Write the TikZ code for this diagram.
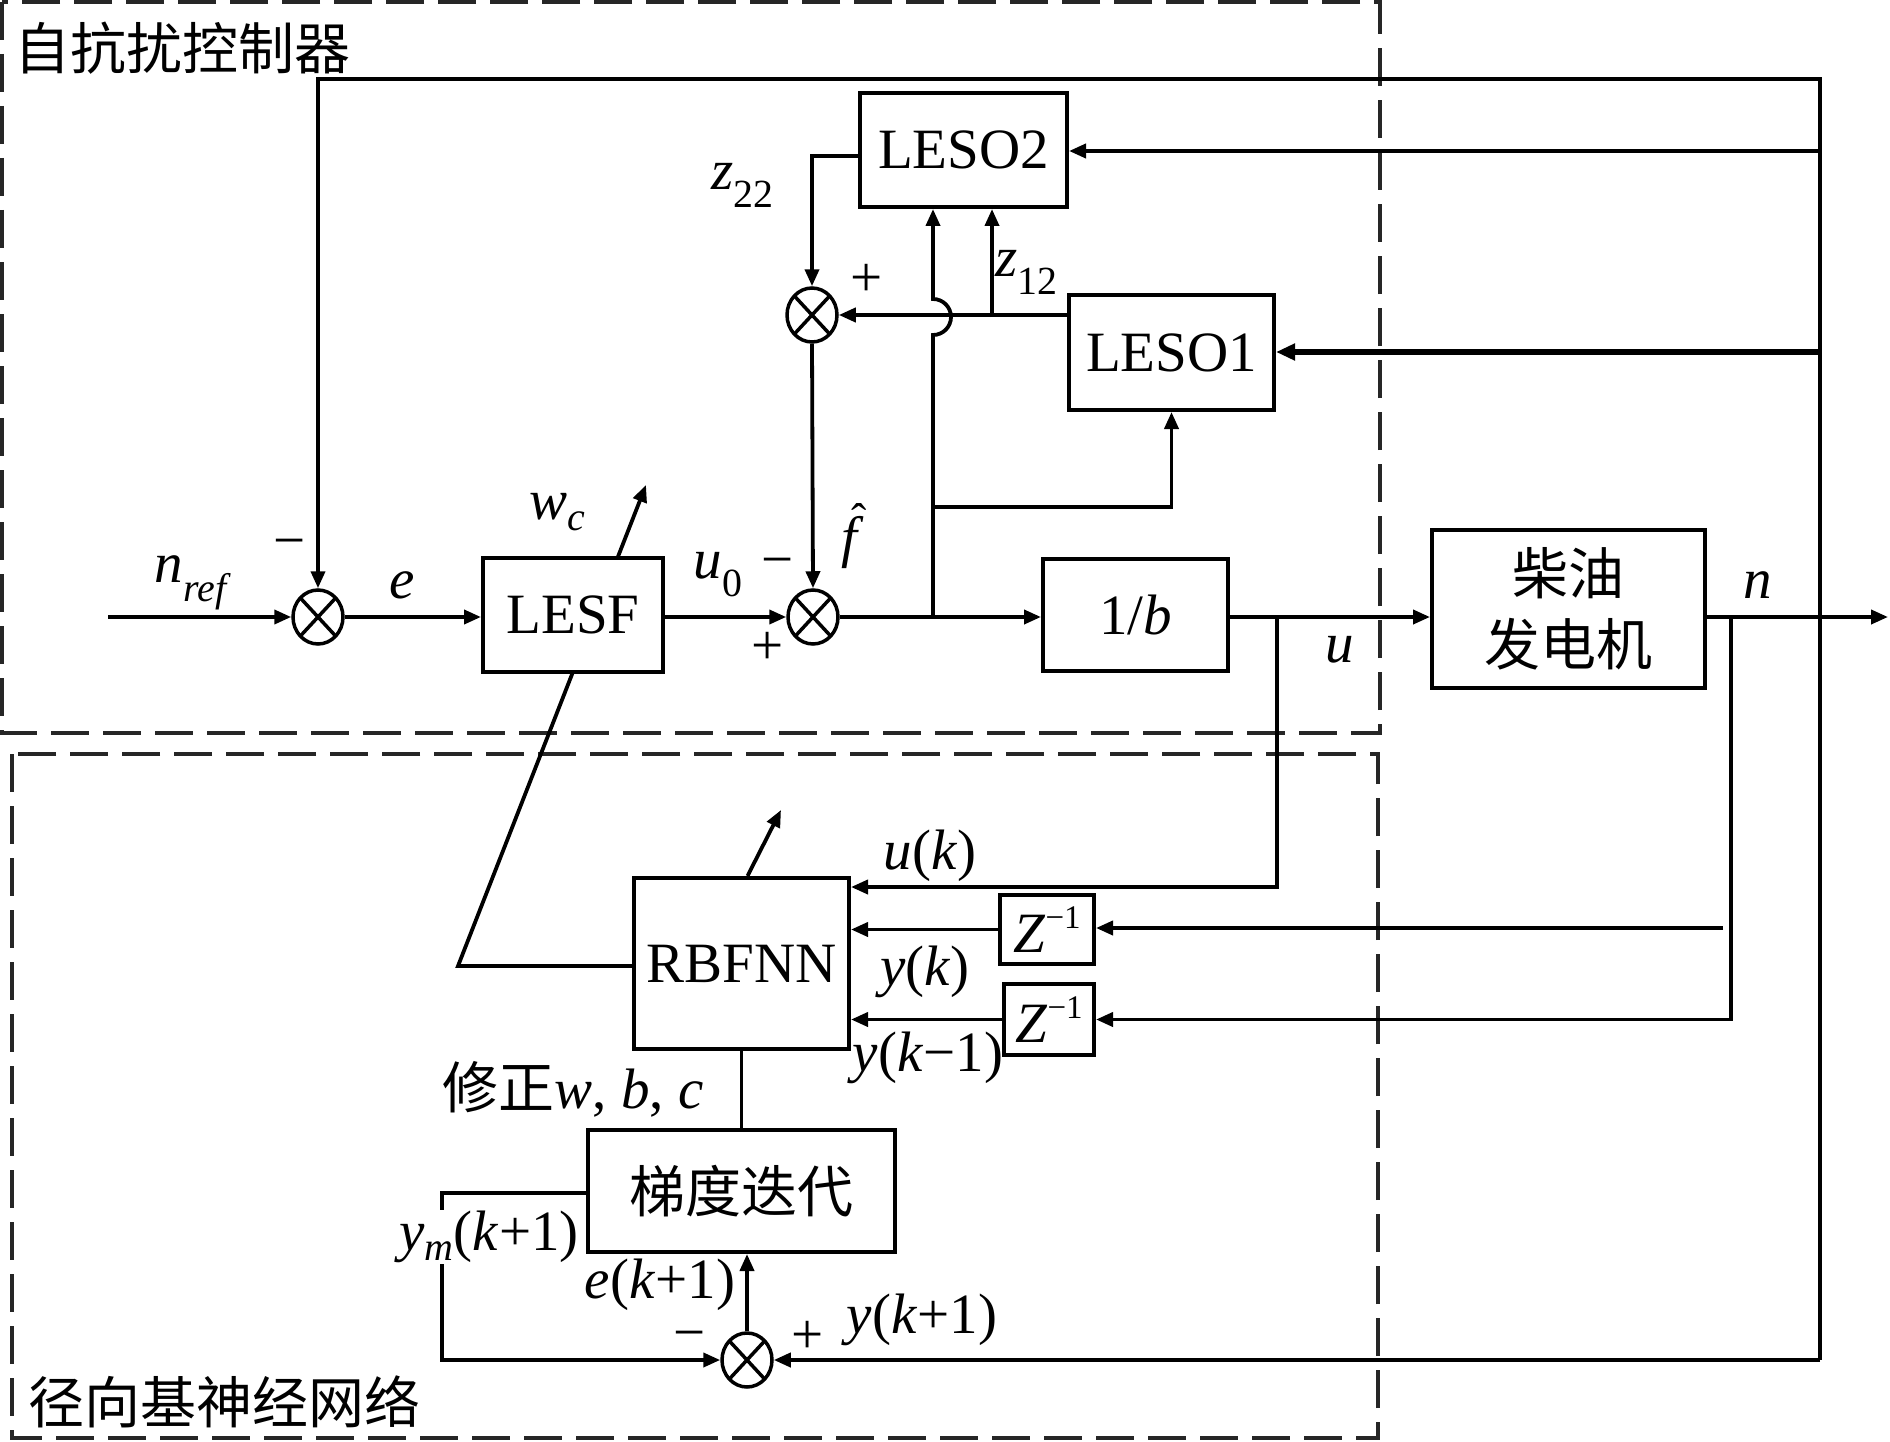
\documentclass[tikz,border=0pt]{standalone}
\usepackage{fontspec}
\setmainfont{Liberation Serif}
\newfontfamily\cjk{Noto Sans CJK SC}
\usetikzlibrary{arrows.meta,shapes.geometric}
\newcommand{\ii}[1]{\textit{#1}}
\newcommand{\fs}{\fontsize{57}{68}\selectfont}
\newcommand{\cs}{\fontsize{56}{71}\selectfont\cjk}
\newcommand{\zinv}{\ii{Z}\raisebox{0.42em}{\fontsize{33}{33}\selectfont −1}}
\tikzset{
  ln/.style={line width=3.8pt},
  arr/.style={line width=3.8pt, -{Triangle[length=17pt,width=14pt]}},
  blk/.style={draw, line width=4pt, fill=white, inner sep=0pt, font=\fs},
  sumn/.style={ellipse, draw, line width=3.5pt, minimum width=50pt, minimum height=54pt,
    inner sep=0pt, fill=white,
    path picture={\draw[line width=3.5pt]
      (path picture bounding box.north west) -- (path picture bounding box.south east)
      (path picture bounding box.north east) -- (path picture bounding box.south west);}},
  lbl/.style={font=\fs, inner sep=0pt},
  dbox/.style={draw=black!85, line width=4pt, dash pattern=on 38pt off 14pt},
}
\begin{document}
\begin{tikzpicture}[x=1pt,y=-1pt]
\useasboundingbox (0,0) rectangle (1890,1442);
\fill[white] (0,0) rectangle (1890,1442);

% dashed group frames
\draw[dbox] (2,2) rectangle (1380,733);
\draw[dbox] (12,754) rectangle (1378,1438);

% blocks
\node[blk, minimum width=207pt, minimum height=114pt] (leso2) at (963.5,150) {LESO2};
\node[blk, minimum width=205pt, minimum height=115pt] (leso1) at (1171.5,352.5) {LESO1};
\node[blk, minimum width=185pt, minimum height=112pt] (invb) at (1135.5,615) {1/\ii{b}};
\node[blk, minimum width=273pt, minimum height=158pt, align=center, font=\cs] (plant) at (1568.5,609) {柴油\\发电机};
\node[blk, minimum width=215pt, minimum height=171pt] (rbf) at (741.5,963.5) {RBFNN};
\node[blk, minimum width=94pt, minimum height=69pt] (z1) at (1047,929.5) {\zinv};
\node[blk, minimum width=90pt, minimum height=71pt] (z2) at (1049,1019.5) {\zinv};
\node[blk, minimum width=307pt, minimum height=122pt, font=\cs] (grad) at (741.5,1191) {梯度迭代};

% adjustable-parameter arrow through LESF (drawn before LESF so it passes behind)
\coordinate (ds) at (458,966);
\coordinate (dt) at (646,485);
\draw[arr] (ds -| rbf.west) -- (ds) -- (dt);
\node[blk, minimum width=180pt, minimum height=114pt] (lesf) at (573,615) {LESF};

% summing junctions
\node[sumn] (s1) at (318,617) {};
\node[sumn] (s2) at (813,617) {};
\node[sumn] (s3) at (812,315) {};
\node[sumn] (s4) at (747,1360) {};

% helper coordinates
\coordinate (in) at (108,617);
\coordinate (rt) at (1820,79);
\coordinate (rb) at (1820,1360);
\coordinate (f2) at (1820,151);
\coordinate (f1) at (1820,352);
\coordinate (j1) at (933,617);
\coordinate (j2) at (933,507);
\coordinate (zb) at (992,317);
\coordinate (ub) at (1277,617);
\coordinate (ubd) at (1277,887);
\coordinate (nb) at (1731,617);
\coordinate (nbd) at (1731,1019.5);
\coordinate (yk) at (1723,928);
\coordinate (out) at (1888,617);
\coordinate (rbt) at (781,810);
\coordinate (ymc) at (442,1193);

% main forward path
\draw[arr] (in) -- (s1.west);
\draw[arr] (s1.east) -- (s1.east -| lesf.west);
\draw[arr] (lesf.east |- s2) -- (s2.west);
\draw[arr] (s2.east) -- (s2.east -| invb.west);
\draw[arr] (invb.east |- ub) -- (ub -| plant.west);
\draw[arr] (plant.east |- out) -- (out);

% observers
\draw[arr] (j1) -- (933,335) arc[start angle=90, end angle=-90, radius=18] -- (j1 |- leso2.south);
\draw[arr] (j2) -| (leso1.south);
\draw[arr] ([yshift=-6pt]leso2.west) -| (s3.north);
\draw[arr] (leso1.west |- s3) -- (s3.east);
\draw[arr] (zb) -- (zb |- leso2.south);
\draw[arr] (s3.south) -- (s2.north);

% outer feedback
\draw[arr] (rb) -- (rt) -- (rt -| s1) -- (s1.north);
\draw[arr] (f2) -- (f2 -| leso2.east);
\draw[line width=5.5pt, -{Triangle[length=19pt,width=16pt]}] (f1) -- (f1 -| leso1.east);
\draw[arr] (rb) -- (s4.east);

% neural network signals
\draw[arr] (ub) -- (ubd) -- (ubd -| rbf.east);
\draw[arr] (nb) -- (nbd) -- (z2.east);
\draw[arr] (yk) -- (yk -| z1.east);
\draw[arr] (z1.west) -- (z1.west -| rbf.east);
\draw[arr] (z2.west) -- (z2.west -| rbf.east);
\draw[arr] ([xshift=6pt]rbf.north) -- (rbt);
\draw[ln] (rbf.south) -- (rbf.south |- grad.north);
\draw[arr] (grad.west |- ymc) -- (ymc) |- (s4.west);
\draw[arr] (s4.north) -- (s4.north |- grad.south);

% labels
\node[lbl, anchor=west, font=\cs] (t1) at (14,48) {自抗扰控制器};
\node[lbl, anchor=west, font=\cs] (t2) at (28,1402) {径向基神经网络};
\node[lbl] (lnref) at (193,583) {\ii{n}\textsubscript{\ii{ref}}};
\node[lbl] (lm1) at (290,549) {−};
\node[lbl] (le) at (402,585) {\ii{e}};
\node[lbl] (lwc) at (558,512) {\ii{w}\textsubscript{\ii{c}}};
\node[lbl] (lu0) at (718,575) {\ii{u}\textsubscript{0}};
\node[lbl] (lm2) at (778,568) {−};
\node[lbl] (lp2) at (768,648) {+};
\node[lbl] (lf) at (853,536) {\ii{f}\llap{\raisebox{0.36em}{\fontsize{46}{46}\selectfont\char"02C6}\kern-0.04em}};
\node[lbl] (lp3) at (867,280) {+};
\node[lbl] (lz22) at (743,185) {\ii{z}\textsubscript{22}};
\node[lbl] (lz12) at (1027,272) {\ii{z}\textsubscript{12}};
\node[lbl] (lu) at (1340,650) {\ii{u}};
\node[lbl] (ln) at (1758,585) {\ii{n}};
\node[lbl] (luk) at (930,856) {\ii{u}(\ii{k})};
\node[lbl] (lyk) at (925,972) {\ii{y}(\ii{k})};
\node[lbl] (lyk1) at (928,1058) {\ii{y}(\ii{k}−1)};
\node[lbl] (lfix) at (573,1089) {{\cs 修正}\ii{w}, \ii{b}, \ii{c}};
\node[lbl, fill=white, inner sep=1pt] (lym) at (489,1237) {\ii{y}\textsubscript{\ii{m}}(\ii{k}+1)};
\node[lbl] (lek) at (660,1285) {\ii{e}(\ii{k}+1)};
\node[lbl] (lm4) at (690,1341) {−};
\node[lbl] (lp4) at (808,1337) {+};
\node[lbl] (lyk2) at (922,1320) {\ii{y}(\ii{k}+1)};
\end{tikzpicture}
\end{document}
